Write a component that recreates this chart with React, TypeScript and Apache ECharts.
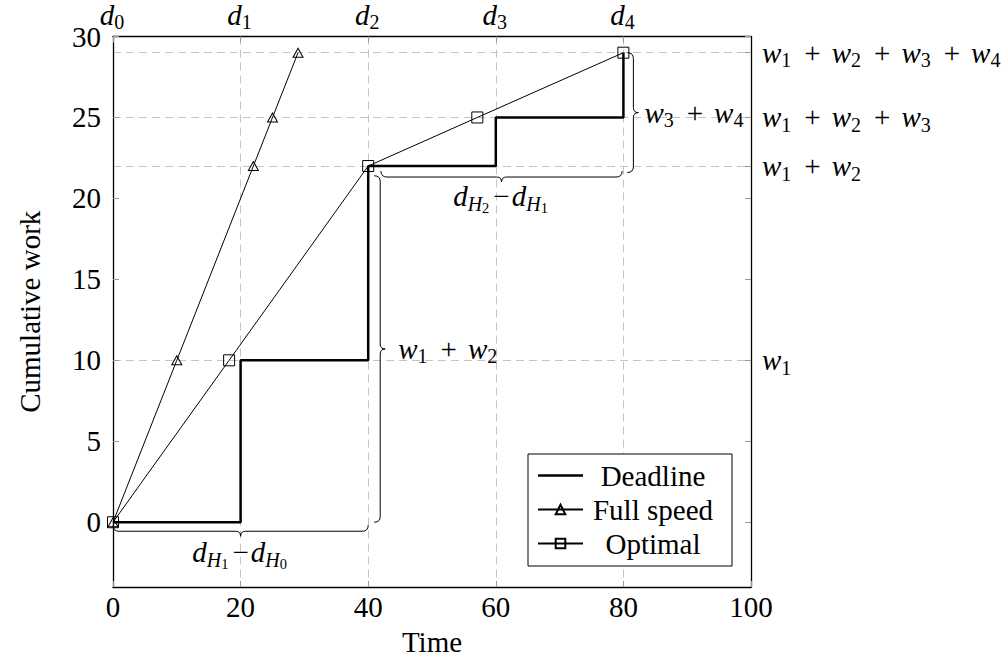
import React, { useEffect, useRef } from 'react';
import * as echarts from 'echarts';

// ---------- data ----------
const xTicks = [0, 20, 40, 60, 80, 100];
const yTicks = [0, 5, 10, 15, 20, 25, 30];

const deadlineTimes = [0, 20, 20, 40, 40, 60, 60, 80, 80];
const deadlineWork = [0, 0, 10, 10, 22, 22, 25, 25, 29];

const fullSpeedTimes = [0, 10, 22, 25, 29];
const fullSpeedWork = [0, 10, 22, 25, 29];

const optimalTimes = [0, 18.2, 40, 57.1, 80];
const optimalWork = [0, 10, 22, 25, 29];

const deadlineTicks = [0, 20, 40, 60, 80];
const deadlineTickIdx = [0, 1, 2, 3, 4];

const workTicks = [10, 22, 25, 29];
const workTickTerms = [[1], [1, 2], [1, 2, 3], [1, 2, 3, 4]];

// braces: start point, end point (data coords)
const braceStart = [[0, 0], [40, 21.4], [42, 22], [80, 29]];
const braceEnd = [[40, 0], [40, 0], [79.8, 22], [80, 21.6]];
const braceKinds = ['dH', 'w', 'dH', 'w'];
const braceTerms = [[1, 0], [1, 2], [2, 1], [3, 4]];

// ---------- styles ----------
const FONT = "'Liberation Serif', 'Times New Roman', serif";
const FS = 29;

function makeRich(zr: boolean) {
  const c = zr ? { fill: '#000' } : { color: '#000' };
  const base = { ...c, fontFamily: FONT, lineHeight: 30, verticalAlign: 'middle' };
  return {
    i: { ...base, fontStyle: 'italic', fontSize: FS },
    r: { ...base, fontSize: FS },
    p: { ...base, fontSize: FS, padding: [0, 11, 0, 11] },
    m: { ...base, fontSize: FS, padding: [0, 2, 0, 2] },
    s: { ...base, fontSize: 20, padding: [15, 2, 0, 0] },
    si: { ...base, fontStyle: 'italic', fontSize: 20, padding: [15, 0, 0, 0] },
    ss: { ...base, fontSize: 14.5, padding: [24, 2, 0, 0] },
  } as any;
}

const dLabel = (k: number) => `{i|d}{s|${k}}`;
const dHLabel = (a: number, b: number) =>
  `{i|d}{si|H}{ss|${a}}{m|\u2212}{i|d}{si|H}{ss|${b}}`;
const wSum = (ks: number[]) => ks.map((k) => `{i|w}{s|${k}}`).join('{p|+}');

const braceLabel = (i: number) =>
  braceKinds[i] === 'dH' ? dHLabel(braceTerms[i][0], braceTerms[i][1]) : wSum(braceTerms[i]);

// per-brace drawing style (pixel offsets, normal direction)
const braceNormal = [[0, 1], [1, 0], [0, 1], [1, 0]];
const braceOffset = [3, 6, 5, 4];
const braceLabelGap = [16, 13, 14, 6];
const H1 = 6;
const H2 = 5;

function bracePath(a: number[], b: number[], n: number[], off: number) {
  const ax = a[0] + n[0] * off, ay = a[1] + n[1] * off;
  const bx = b[0] + n[0] * off, by = b[1] + n[1] * off;
  const L = Math.hypot(bx - ax, by - ay);
  const ux = (bx - ax) / L, uy = (by - ay) / L;
  const P = (s: number, t: number) => [ax + ux * s + n[0] * t, ay + uy * s + n[1] * t];
  const f = (p: number[]) => `${p[0].toFixed(2)} ${p[1].toFixed(2)}`;
  const d = [
    `M ${f(P(0, 0))}`,
    `Q ${f(P(0, H1))} ${f(P(H1, H1))}`,
    `L ${f(P(L / 2 - H2, H1))}`,
    `Q ${f(P(L / 2, H1))} ${f(P(L / 2, H1 + H2))}`,
    `Q ${f(P(L / 2, H1))} ${f(P(L / 2 + H2, H1))}`,
    `L ${f(P(L - H1, H1))}`,
    `Q ${f(P(L, H1))} ${f(P(L, 0))}`,
  ].join(' ');
  return { d, tip: P(L / 2, H1 + H2) };
}

const zip = (xs: number[], ys: number[]) => xs.map((x, i) => [x, ys[i]]);

const tickStyle = { show: true, inside: true, length: 6, lineStyle: { color: '#999', width: 1 } };
const axisLineStyle = { show: true, onZero: false, lineStyle: { color: '#000', width: 1.3 } };
const gridDash = { show: true, lineStyle: { color: '#c4c4c4', width: 1, type: [8, 5] as any } };
const numLabel = { color: '#000', fontFamily: FONT, fontSize: FS, lineHeight: 30 };

export default function App() {
  const ref = useRef<HTMLDivElement>(null);

  useEffect(() => {
    const chart = echarts.init(ref.current!, null, { renderer: 'svg' });
    const option: any = {
      animation: false,
      backgroundColor: '#fff',
      grid: { left: 113, right: 253, top: 36.5, bottom: 78, containLabel: false, outerBoundsMode: 'none' },
      legend: {
        orient: 'vertical',
        left: 528,
        top: 454,
        padding: [7, 14, 8, 9],
        itemGap: 5,
        itemWidth: 45,
        itemHeight: 12,
        borderColor: '#000',
        borderWidth: 1,
        backgroundColor: '#fff',
        data: [
          { name: 'Deadline', icon: 'path://M0 0H45V2.5H0Z' },
          { name: 'Full speed' },
          { name: 'Optimal' },
        ],
        formatter: (n: string) => `{c|${n}}`,
        textStyle: {
          color: '#000',
          rich: { c: { width: 130, align: 'center', fontFamily: FONT, fontSize: FS, lineHeight: 30, color: '#000' } },
        },
      },
      xAxis: [
        {
          type: 'value',
          position: 'bottom',
          min: xTicks[0],
          max: xTicks[xTicks.length - 1],
          interval: 20,
          axisLine: axisLineStyle,
          axisTick: tickStyle,
          axisLabel: { ...numLabel, margin: 5 },
          splitLine: { show: false },
          name: 'Time',
          nameLocation: 'middle',
          nameGap: 31,
          nameTextStyle: { ...numLabel },
        },
        {
          type: 'value',
          position: 'top',
          min: xTicks[0],
          max: xTicks[xTicks.length - 1],
          axisLine: axisLineStyle,
          axisTick: { ...tickStyle, customValues: deadlineTicks },
          axisLabel: {
            customValues: deadlineTicks,
            margin: 7,
            formatter: (v: number) => dLabel(deadlineTickIdx[deadlineTicks.indexOf(v)]),
            rich: makeRich(false),
          },
          splitLine: gridDash,
        },
      ],
      yAxis: [
        {
          type: 'value',
          position: 'left',
          min: -4,
          max: 30,
          axisLine: axisLineStyle,
          axisTick: { ...tickStyle, customValues: yTicks },
          axisLabel: { ...numLabel, customValues: yTicks, margin: 12 },
          splitLine: { show: false },
          name: 'Cumulative work',
          nameLocation: 'middle',
          nameGap: 68,
          nameTextStyle: { ...numLabel },
        },
        {
          type: 'value',
          position: 'right',
          min: -4,
          max: 30,
          axisLine: axisLineStyle,
          axisTick: { ...tickStyle, customValues: workTicks },
          axisLabel: {
            customValues: workTicks,
            margin: 11,
            formatter: (v: number) => wSum(workTickTerms[workTicks.indexOf(v)]),
            rich: makeRich(false),
          },
          splitLine: gridDash,
        },
        {
          type: 'value',
          position: 'right',
          min: -4,
          max: 30,
          axisLine: { show: false, onZero: false },
          axisTick: { ...tickStyle, customValues: yTicks },
          axisLabel: { show: false },
          splitLine: { show: false },
        },
      ],
      series: [
        {
          name: 'Deadline',
          type: 'line',
          data: zip(deadlineTimes, deadlineWork),
          symbol: 'none',
          lineStyle: { color: '#000', width: 2.5 },
          itemStyle: { color: '#000' },
          z: 3,
        },
        {
          name: 'Full speed',
          type: 'line',
          data: zip(fullSpeedTimes, fullSpeedWork),
          symbol: 'triangle',
          symbolSize: [10, 9],
          showAllSymbol: true,
          lineStyle: { color: '#000', width: 1 },
          itemStyle: { color: 'rgba(0,0,0,0)', borderColor: '#000', borderWidth: 1 },
          z: 4,
        },
        {
          name: 'Optimal',
          type: 'line',
          data: zip(optimalTimes, optimalWork),
          symbol: 'rect',
          symbolSize: 11,
          showAllSymbol: true,
          lineStyle: { color: '#000', width: 1 },
          itemStyle: { color: 'rgba(0,0,0,0)', borderColor: '#000', borderWidth: 1 },
          z: 4,
        },
        {
          name: 'braces',
          type: 'custom',
          coordinateSystem: 'cartesian2d',
          xAxisIndex: 0,
          yAxisIndex: 0,
          silent: true,
          z: 5,
          clip: false,
          data: braceStart.map((s, i) => [s[0], s[1], braceEnd[i][0], braceEnd[i][1]]),
          encode: { x: [0, 2], y: [1, 3] },
          renderItem: (params: any, api: any) => {
            const i = params.dataIndex;
            const a = api.coord([api.value(0), api.value(1)]);
            const b = api.coord([api.value(2), api.value(3)]);
            const n = braceNormal[i];
            const { d, tip } = bracePath(a, b, n, braceOffset[i]);
            const g = braceLabelGap[i];
            const horizontal = n[1] !== 0;
            return {
              type: 'group',
              children: [
                {
                  type: 'path',
                  shape: { pathData: d },
                  style: { stroke: '#000', fill: 'none', lineWidth: 1 },
                },
                {
                  type: 'text',
                  x: tip[0] + n[0] * g,
                  y: tip[1] + n[1] * g,
                  style: {
                    text: braceLabel(i),
                    rich: makeRich(true),
                    align: horizontal ? 'center' : 'left',
                    verticalAlign: 'middle',
                    fill: '#000',
                  },
                },
              ],
            };
          },
        },
      ],
    };
    chart.setOption(option);
    return () => chart.dispose();
  }, []);

  return (
    <div
      ref={ref}
      style={{ position: 'fixed', left: 0, top: 0, width: 1004, height: 665, background: '#fff' }}
    />
  );
}
